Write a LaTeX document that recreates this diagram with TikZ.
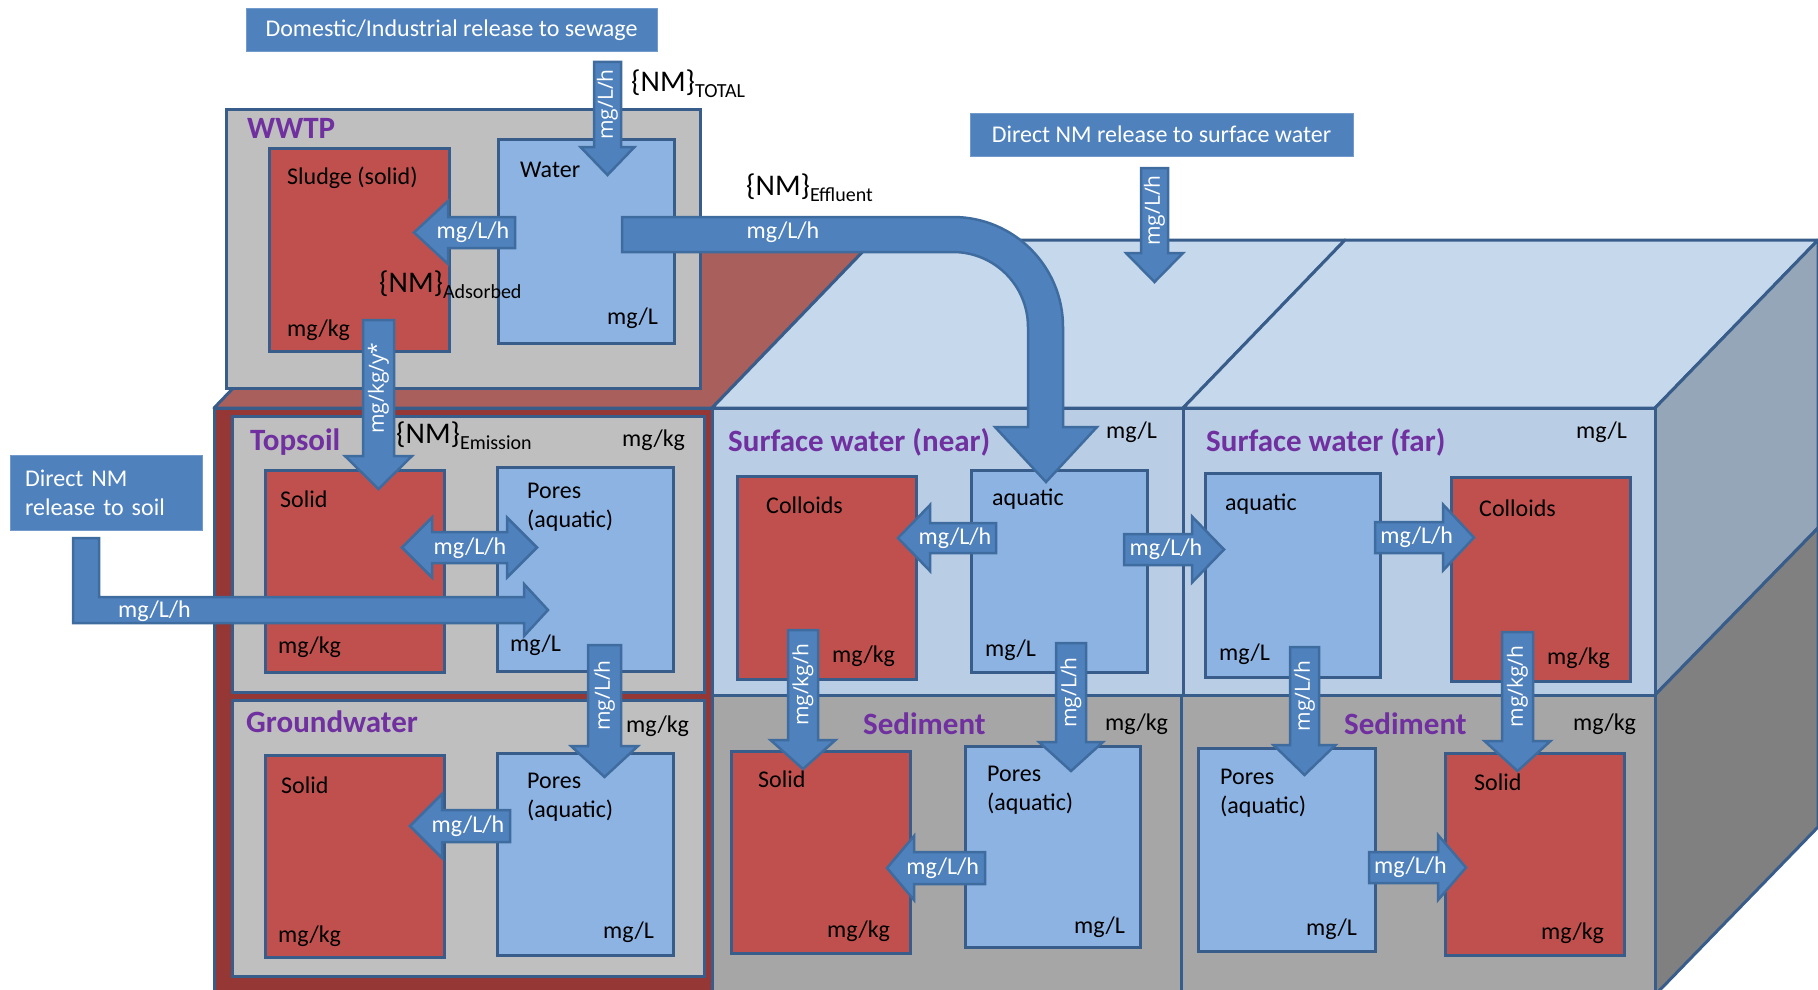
\documentclass[tikz,border=0pt]{standalone}
\usepackage{fontspec}
\setmainfont{Carlito}
\newfontfamily\vertfont{Open Sans}
\usetikzlibrary{calc}

\definecolor{arrowfill}{HTML}{4F81BD}
\definecolor{arrowline}{HTML}{3F6C9F}
\definecolor{boxline}{HTML}{385D8A}
\definecolor{solidred}{HTML}{C0504D}
\definecolor{aquablue}{HTML}{8DB3E2}
\definecolor{panelgray}{HTML}{BFBFBF}
\definecolor{swfront}{HTML}{B9CDE5}
\definecolor{swtop}{HTML}{C6D8EC}
\definecolor{sedfront}{HTML}{A6A6A6}
\definecolor{sideblue}{HTML}{95A6B8}
\definecolor{sidegray}{HTML}{808080}
\definecolor{soiltop}{HTML}{A9605D}
\definecolor{soilframe}{HTML}{953735}
\definecolor{labelpurple}{HTML}{7030A0}

\tikzset{
  every node/.style={font=\fontsize{24}{29}\selectfont, inner sep=0pt},
  face/.style={draw=boxline, line width=3pt, line join=round},
  box/.style={draw=boxline, line width=3pt, anchor=north west, inner sep=0pt},
  blockarrow/.style={draw=arrowline, fill=arrowfill, line width=2.5pt, line join=miter},
  arrowtext/.style={text=white},
  vtext/.style={text=white, rotate=90, font=\vertfont\fontsize{21}{24}\selectfont},
  txt/.style={anchor=west, align=left},
  title/.style={anchor=west, text=labelpurple, font=\fontsize{31}{36}\selectfont\bfseries},
  release/.style={fill=arrowfill, draw=arrowfill!80!white, line width=1pt, text=white},
}

% rectangular compartment: name, x1, y1, x2, y2, fill
\newcommand\cbox[6]{%
  \pgfmathsetmacro\bw{#4-#2}\pgfmathsetmacro\bh{#5-#3}%
  \node[box, fill=#6, minimum width=\bw pt, minimum height=\bh pt] (#1) at (#2,#3) {};}

% horizontal block arrow: name, tail x, head-base x, tip x, centre y, half shaft, half head, label
\newcommand\harrow[8]{%
  \draw[blockarrow] (#2,#5-#6) -- (#3,#5-#6) -- (#3,#5-#7) -- (#4,#5)
     -- (#3,#5+#7) -- (#3,#5+#6) -- (#2,#5+#6) -- cycle;
  \node[arrowtext] (#1) at ({(2*#2+#3+#4)/4},#5) {#8};}

% vertical block arrow: name, centre x, tail y, head-base y, tip y, half shaft, half head, label
\newcommand\varrow[8]{%
  \draw[blockarrow] (#2-#6,#3) -- (#2-#6,#4) -- (#2-#7,#4) -- (#2,#5)
     -- (#2+#7,#4) -- (#2+#6,#4) -- (#2+#6,#3) -- cycle;
  \node[vtext] (#1) at (#2,{(#3+#4)/2}) {#8};}

% concentration symbol with subscript
\newcommand\NMsub[1]{{\fontsize{30}{30}\selectfont\{NM\}}\raisebox{-6pt}{\fontsize{20}{20}\selectfont #1}}

\begin{document}
\begin{tikzpicture}[x=1pt, y=-1pt]
\useasboundingbox (0,0) rectangle (1818,990);

% ---- 3D block: top faces ----
\draw[face, fill=soiltop] (214,408) -- (712,408) -- (874,240) -- (376,240) -- cycle;
\draw[face, fill=swtop] (712,408) -- (1183,408) -- (1345,240) -- (874,240) -- cycle;
\draw[face, fill=swtop] (1183,408) -- (1655,408) -- (1818,240) -- (1345,240) -- cycle;
% right side
\draw[face, fill=sideblue] (1655,408) -- (1818,240) -- (1818,528) -- (1655,695) -- cycle;
\draw[face, fill=sidegray] (1655,695) -- (1818,528) -- (1818,827) -- (1655,995) -- cycle;
% front faces
\draw[face, fill=soilframe] (214,408) rectangle (712,1000);
\draw[face, fill=swfront] (712,408) rectangle (1183,695);
\draw[face, fill=swfront] (1183,408) rectangle (1655,695);
\draw[face, fill=sedfront] (712,695) rectangle (1181,1000);
\draw[face, fill=sedfront] (1181,695) rectangle (1655,1000);

% ---- panels ----
\cbox{wwtp}{225}{108}{699}{387}{panelgray}
\cbox{topsoil}{231}{415}{703}{691}{panelgray}
\cbox{ground}{231}{699}{703}{975}{panelgray}

% ---- compartments ----
\cbox{sludge}{268}{147}{448}{350}{solidred}
\cbox{water}{497}{138}{673}{342}{aquablue}
\cbox{tsolid}{264}{469}{443}{671}{solidred}
\cbox{tpores}{496}{466}{672}{670}{aquablue}
\cbox{gsolid}{264}{754}{443}{956}{solidred}
\cbox{gpores}{496}{752}{672}{954}{aquablue}
\cbox{ncoll}{736}{475}{915}{678}{solidred}
\cbox{naqua}{970}{469}{1146}{671}{aquablue}
\cbox{nsolid}{730}{750}{909}{952}{solidred}
\cbox{npores}{964}{745}{1139}{946}{aquablue}
\cbox{faqua}{1204}{472}{1379}{676}{aquablue}
\cbox{fcoll}{1450}{476}{1629}{680}{solidred}
\cbox{fpores}{1197}{747}{1374}{950}{aquablue}
\cbox{fsolid}{1444}{752}{1623}{954}{solidred}

% ---- compartment titles ----
\node[title] (t1) at (247,128) {WWTP};
\node[title] (t2) at (250,442) {Topsoil};
\node[title] (t3) at (246,722) {Groundwater};
\node[title] (t4) at (728,442) {Surface water (near)};
\node[title] (t5) at (1206,442) {Surface water (far)};
\node[title] (t6) at (863,724) {Sediment};
\node[title] (t7) at (1344,724) {Sediment};

% ---- texts ----
\node[txt] (l1) at (287,178) {Sludge (solid)};
\node[txt] (l2) at (287,330) {mg/kg};
\node[txt] (l3) at (520,170) {Water};
\node[txt] (l4) at (607,318) {mg/L};
\node[txt] (l5) at (622,440) {mg/kg};
\node[txt] (l6) at (280,499) {Solid};
\node[txt] (l7) at (278,647) {mg/kg};
\node[txt] (l8) at (527,507) {Pores\\(aquatic)};
\node[txt] (l9) at (510,645) {mg/L};
\node[txt] (l10) at (626,726) {mg/kg};
\node[txt] (l11) at (281,785) {Solid};
\node[txt] (l12) at (278,936) {mg/kg};
\node[txt] (l13) at (527,797) {Pores\\(aquatic)};
\node[txt] (l14) at (603,932) {mg/L};
\node[txt] (l15) at (1106,432) {mg/L};
\node[txt] (l16) at (766,505) {Colloids};
\node[txt] (l17) at (832,656) {mg/kg};
\node[txt] (l18) at (992,499) {aquatic};
\node[txt] (l19) at (985,650) {mg/L};
\node[txt] (l20) at (1105,724) {mg/kg};
\node[txt] (l21) at (758,779) {Solid};
\node[txt] (l22) at (827,931) {mg/kg};
\node[txt] (l23) at (987,790) {Pores\\(aquatic)};
\node[txt] (l24) at (1074,927) {mg/L};
\node[txt] (l25) at (1576,432) {mg/L};
\node[txt] (l26) at (1225,504) {aquatic};
\node[txt] (l27) at (1219,654) {mg/L};
\node[txt] (l28) at (1479,508) {Colloids};
\node[txt] (l29) at (1547,658) {mg/kg};
\node[txt] (l30) at (1573,724) {mg/kg};
\node[txt] (l31) at (1220,793) {Pores\\(aquatic)};
\node[txt] (l32) at (1306,929) {mg/L};
\node[txt] (l33) at (1474,782) {Solid};
\node[txt] (l34) at (1541,933) {mg/kg};

% ---- release sources ----
\node[release, minimum width=411pt, minimum height=43pt] (sewage) at (451.5,30.5)
  {Domestic/Industrial release to sewage};
\node[release, minimum width=383pt, minimum height=43pt] (surfrel) at (1161.5,134.5)
  {Direct NM release to surface water};
\node[release, minimum width=192pt, minimum height=75pt, text width=162pt, align=left]
  (soilrel) at (106,492.5) {Direct NM\\release to soil};

% ---- fluxes ----
\varrow{a1}{607.5}{62}{147}{175}{13.5}{27}{mg/L/h}
\harrow{a2}{515}{448}{414}{232.5}{15.5}{31.5}{mg/L/h}
\varrow{a4}{1154.5}{168}{253}{282}{13.5}{28.5}{mg/L/h}
\varrow{a5}{378.5}{320}{456}{489}{15.5}{33.5}{mg/kg/y*}
\varrow{a8}{604.5}{645}{746}{777}{16.5}{33.5}{mg/L/h}
\harrow{a9}{510}{442}{410}{826}{16}{32}{mg/L/h}
\harrow{a10}{996}{930}{898}{538}{15}{33}{mg/L/h}
\harrow{a11}{1124}{1192}{1224}{549.5}{15.5}{33}{mg/L/h}
\varrow{a12}{803}{630}{740}{769}{15}{32.5}{mg/kg/h}
\varrow{a13}{1071}{643}{742}{771}{15}{32}{mg/L/h}
\harrow{a14}{985}{914}{887}{868}{16}{32}{mg/L/h}
\harrow{a15}{1375}{1443}{1474}{537.5}{15.5}{33}{mg/L/h}
\varrow{a16}{1304.5}{647}{745}{775}{14.5}{31}{mg/L/h}
\varrow{a17}{1517.5}{632}{741}{771}{15.5}{33}{mg/kg/h}
\harrow{a18}{1369}{1438}{1466}{867.5}{15.5}{32.5}{mg/L/h}

% exchange between topsoil solid and pores
\draw[blockarrow] (402,547.5) -- (432,517.5) -- (432,532) -- (507,532) -- (507,517.5)
  -- (537,547.5) -- (507,577.5) -- (507,563) -- (432,563) -- (432,577.5) -- cycle;
\node[arrowtext] (a6) at (470,548) {mg/L/h};

% direct release to soil
\draw[blockarrow] (73,538) -- (99,538) -- (99,597) -- (524,597) -- (524,584) -- (548,610)
  -- (524,636) -- (524,623) -- (73,623) -- cycle;
\node[arrowtext, anchor=west] (a7) at (118,611) {mg/L/h};

% effluent from the WWTP into the near surface water
\draw[blockarrow] (622,217) -- (953,217) arc[start angle=90, end angle=0, radius=110pt]
  -- (1063,427) -- (1097,427) -- (1046,482) -- (995,427) -- (1028,427) -- (1028,327)
  arc[start angle=0, end angle=90, radius=75pt] -- (622,252) -- cycle;
\node[arrowtext] (a3) at (783,232) {mg/L/h};

% ---- concentration labels ----
\node[anchor=west] (nm1) at (631,84) {\NMsub{TOTAL}};
\node[anchor=west] (nm2) at (746,188) {\NMsub{Effluent}};
\node[anchor=west] (nm3) at (379,285) {\NMsub{Adsorbed}};
\node[anchor=west] (nm4) at (396,436) {\NMsub{Emission}};

\end{tikzpicture}
\end{document}
